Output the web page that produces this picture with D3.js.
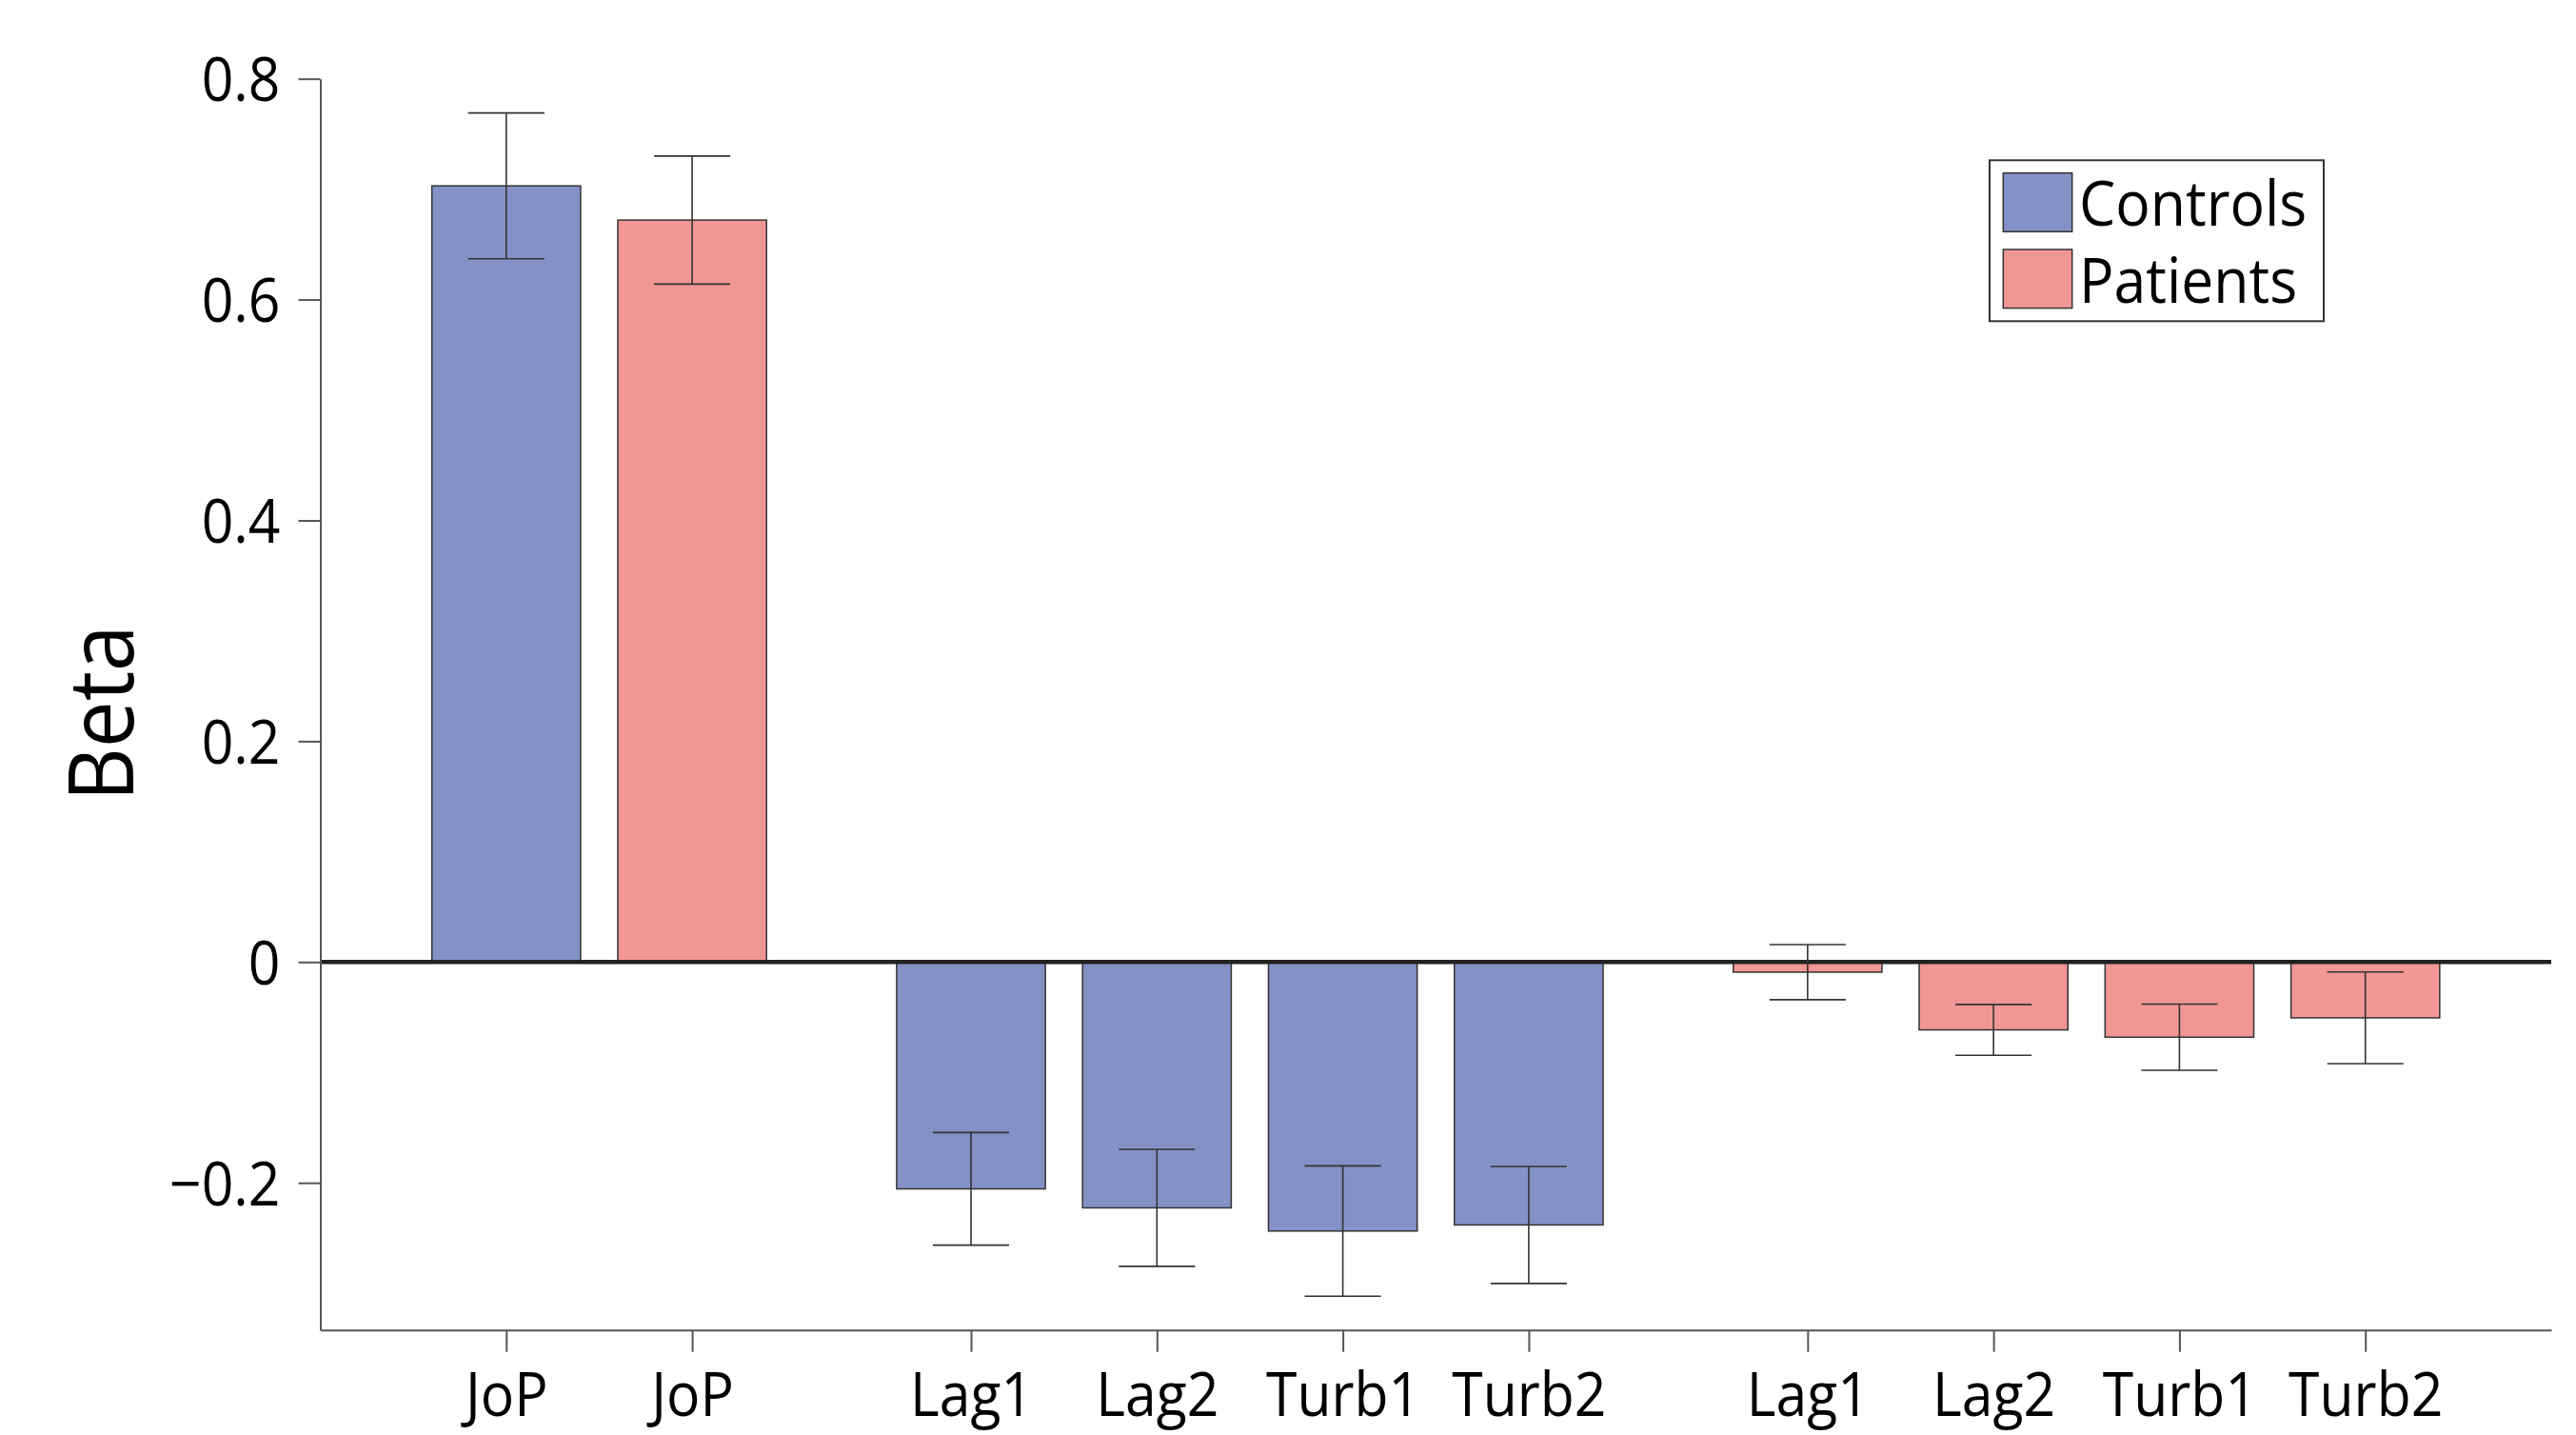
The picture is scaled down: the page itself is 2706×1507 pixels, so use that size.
<!DOCTYPE html>
<html>
<head>
<meta charset="utf-8">
<script src="https://cdn.jsdelivr.net/npm/d3@7"></script>
<style>
  html, body { margin: 0; padding: 0; background: #fff; }
  svg { display: block; }
  text { font-family: "Open Sans", "Noto Sans", sans-serif; fill: #000; }
</style>
</head>
<body>
<svg id="chart" width="2706" height="1507"></svg>
<script>
// ---- data ----
const categories = ["JoP", "JoP", "Lag1", "Lag2", "Turb1", "Turb2", "Lag1", "Lag2", "Turb1", "Turb2"];
const seriesOf   = ["Controls", "Patients", "Controls", "Controls", "Controls", "Controls", "Patients", "Patients", "Patients", "Patients"];
const betaValues = [0.703, 0.672, -0.2055, -0.2227, -0.2437, -0.2382, -0.0092, -0.0615, -0.0681, -0.0506];
const errValues  = [0.066, 0.058, 0.051, 0.053, 0.059, 0.053, 0.025, 0.023, 0.030, 0.0415];
const blockSizes = [2, 4, 4];
const seriesNames = ["Controls", "Patients"];
const yTickValues = [-0.2, 0, 0.2, 0.4, 0.6, 0.8];
const yTickLabels = ["\u22120.2", "0", "0.2", "0.4", "0.6", "0.8"];
const yLabel = "Beta";

// ---- layout / style ----
const W = 2706, H = 1507;
const plot = { left: 336.5, right: 2680, top: 82.7, bottom: 1396.7 };
const colors = { Controls: "rgb(132,145,199)", Patients: "rgb(240,150,148)" };
const textScale = 0.92;

// slot positions: consecutive within a block, extra half slot between blocks
const positions = [];
let p = 1;
blockSizes.forEach((n) => {
  for (let i = 0; i < n; i++) { positions.push(p); p += 1; }
  p += 0.5;
});

const x = d3.scaleLinear().domain([0, 12]).range([plot.left, plot.right]);
const y = d3.scaleLinear().domain([-0.3333, 0.8]).range([plot.bottom, plot.top]);
const barW = 0.8, capW = 0.41;

const svg = d3.select("#chart");
const data = categories.map((c, i) => ({ cat: c, s: seriesOf[i], v: betaValues[i], e: errValues[i], pos: positions[i] }));

// bars
svg.append("g").selectAll("rect").data(data).join("rect")
  .attr("x", d => x(d.pos - barW / 2))
  .attr("width", d => x(d.pos + barW / 2) - x(d.pos - barW / 2))
  .attr("y", d => y(Math.max(0, d.v)))
  .attr("height", d => Math.abs(y(d.v) - y(0)))
  .attr("fill", d => colors[d.s])
  .attr("stroke", "#333")
  .attr("stroke-width", 1.5);

// zero line
svg.append("line")
  .attr("x1", plot.left).attr("x2", plot.right)
  .attr("y1", y(0)).attr("y2", y(0))
  .attr("stroke", "#222").attr("stroke-width", 4.6);

// error bars
const eb = svg.append("g").attr("stroke", "#333").attr("stroke-width", 1.6);
data.forEach(d => {
  eb.append("line").attr("x1", x(d.pos)).attr("x2", x(d.pos)).attr("y1", y(d.v + d.e)).attr("y2", y(d.v - d.e));
  [d.v + d.e, d.v - d.e].forEach(yy => {
    eb.append("line").attr("x1", x(d.pos - capW / 2)).attr("x2", x(d.pos + capW / 2)).attr("y1", y(yy)).attr("y2", y(yy));
  });
});

// y axis
const yAxis = d3.axisLeft(y).tickValues(yTickValues).tickSize(23).tickSizeOuter(0).tickPadding(19)
  .tickFormat((d, i) => yTickLabels[i]);
const gy = svg.append("g").attr("transform", `translate(${plot.left},0)`).call(yAxis);
gy.select(".domain").attr("stroke", "#555").attr("stroke-width", 2);
gy.selectAll(".tick line").attr("stroke", "#555").attr("stroke-width", 2);
gy.selectAll(".tick text")
  .attr("font-size", 64).attr("font-family", "'Open Sans', sans-serif").attr("fill", "#000")
  .attr("x", -(23 + 19) / textScale)
  .attr("dy", "0.36em")
  .attr("transform", `scale(${textScale},1)`);

// x axis
const xAxis = d3.axisBottom(x).tickValues(positions).tickSize(23).tickSizeOuter(0).tickPadding(0)
  .tickFormat((d, i) => categories[i]);
const gx = svg.append("g").attr("transform", `translate(0,${plot.bottom})`).call(xAxis);
gx.select(".domain").attr("stroke", "#555").attr("stroke-width", 2);
gx.selectAll(".tick line").attr("stroke", "#555").attr("stroke-width", 2);
gx.selectAll(".tick text")
  .attr("font-size", 64).attr("font-family", "'Open Sans', sans-serif").attr("fill", "#000")
  .attr("y", 90).attr("dy", 0)
  .attr("transform", `scale(${textScale},1)`);

// y label
svg.append("text")
  .attr("transform", `translate(140,749) rotate(-90) scale(${textScale},1)`)
  .attr("text-anchor", "middle")
  .attr("font-size", 95)
  .text(yLabel);

// legend
const lg = svg.append("g");
lg.append("rect").attr("x", 2090).attr("y", 168.3).attr("width", 351).attr("height", 169)
  .attr("fill", "#fff").attr("stroke", "#333").attr("stroke-width", 2);
seriesNames.forEach((s, i) => {
  const top = 181.7 + i * 80.3;
  lg.append("rect").attr("x", 2104.3).attr("y", top).attr("width", 72.4).attr("height", 61.6)
    .attr("fill", colors[s]).attr("stroke", "#333").attr("stroke-width", 1.5);
  lg.append("text")
    .attr("transform", `translate(2184,${top + 55.6}) scale(${textScale},1)`)
    .attr("font-size", 66)
    .text(s);
});
</script>
</body>
</html>
